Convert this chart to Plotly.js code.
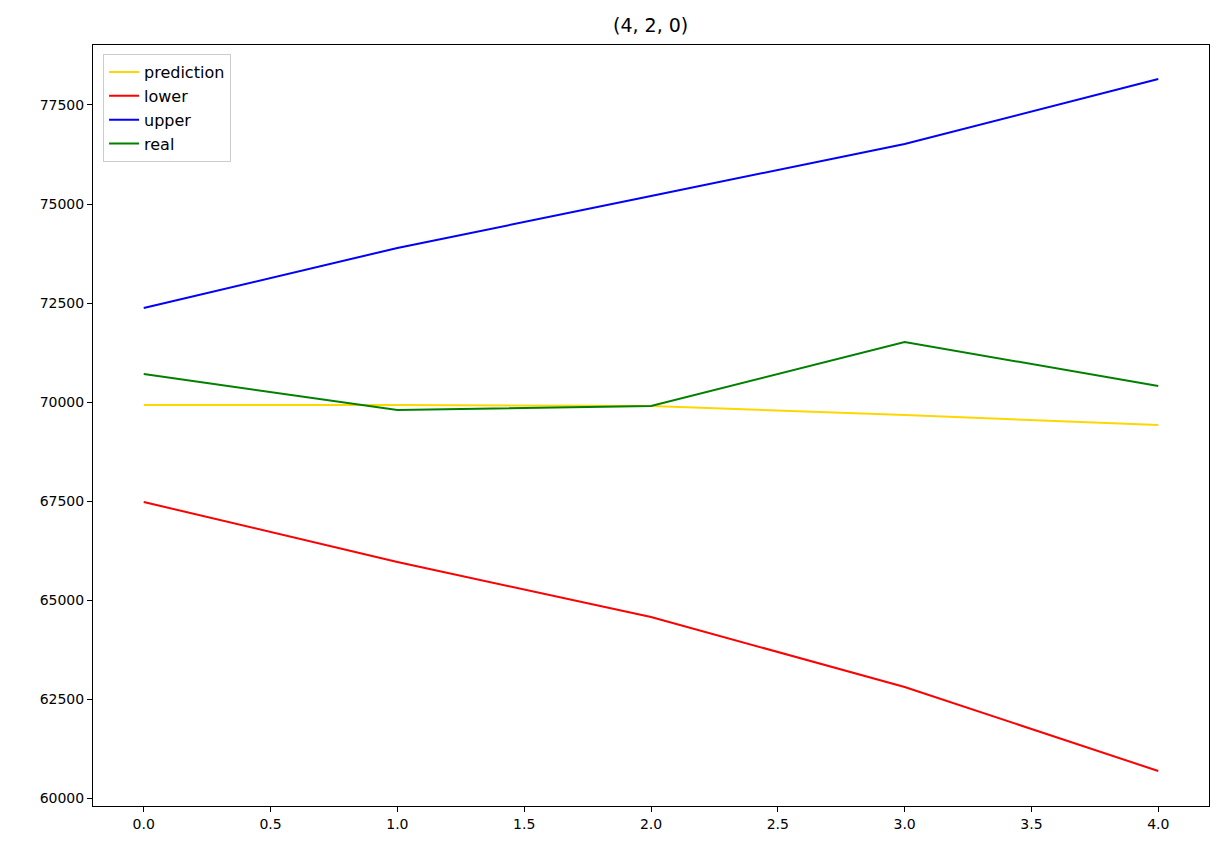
<!DOCTYPE html>
<html>
<head>
<script src="https://cdn.plot.ly/plotly-3.0.1.min.js"></script>
<style>body{margin:0;background:#fff}</style>
</head>
<body>
<div id="chart" style="width:1223px;height:853px"></div>
<script>
var steps = [0, 1, 2, 3, 4];
var prediction = [69924, 69924, 69899, 69672, 69419];
var lower = [67475, 65960, 64571, 62803, 60682];
var upper = [72374, 73889, 75202, 76515, 78157];
var real = [70707, 69798, 69899, 71515, 70404];

function line(name, y, color) {
  return {x: steps, y: y, name: name, type: 'scatter', mode: 'lines',
    line: {color: color, width: 2}};
}

var data = [
  line('prediction', prediction, 'gold'),
  line('lower', lower, 'red'),
  line('upper', upper, 'blue'),
  line('real', real, 'green')
];

var axis = {
  showgrid: false, zeroline: false, showline: true, mirror: true,
  linecolor: 'black', linewidth: 1, ticks: 'outside', ticklen: 5,
  tickcolor: 'black', tickfont: {size: 14}, automargin: false
};

var layout = {
  width: 1223, height: 853,
  margin: {l: 93, r: 14, t: 45, b: 47},
  font: {family: 'DejaVu Sans', color: 'black', size: 14},
  title: {text: '(4, 2, 0)', font: {size: 19}, x: 0.532, y: 0.97, yanchor: 'middle'},
  xaxis: Object.assign({}, axis, {range: [-0.2, 4.2], dtick: 0.5, tickformat: '.1f'}),
  yaxis: Object.assign({}, axis, {range: [59798, 79015], dtick: 2500, tickformat: 'd'}),
  showlegend: true,
  legend: {x: 0.009, y: 0.988, xanchor: 'left', yanchor: 'top',
    bordercolor: '#ccc', borderwidth: 1, bgcolor: 'rgba(255,255,255,0.8)',
    font: {size: 16}, tracegroupgap: 0},
  plot_bgcolor: 'white', paper_bgcolor: 'white'
};

Plotly.newPlot('chart', data, layout, {displayModeBar: false});
</script>
</body>
</html>
